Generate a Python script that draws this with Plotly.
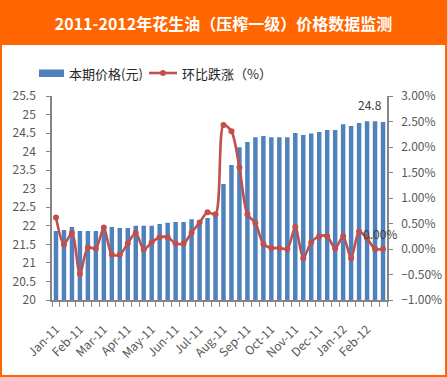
import plotly.graph_objects as go

months = ["Jan-11", "Feb-11", "Mar-11", "Apr-11", "May-11", "Jun-11", "Jul-11",
          "Aug-11", "Sep-11", "Oct-11", "Nov-11", "Dec-11", "Jan-12", "Feb-12"]
periods = ["上旬", "中旬", "下旬"]
categories = [f"{m} {p}" for m in months for p in periods]

price = [21.86, 21.89, 21.97, 21.86, 21.86, 21.86, 21.97, 21.97, 21.94, 21.94,
         22.00, 22.00, 22.00, 22.05, 22.08, 22.10, 22.10, 22.18, 22.03, 22.21,
         22.32, 23.13, 23.64, 24.12, 24.26, 24.39, 24.42, 24.39, 24.39, 24.39,
         24.50, 24.45, 24.49, 24.53, 24.58, 24.58, 24.74, 24.69, 24.77, 24.82,
         24.82, 24.80]
pct = [0.62, 0.09, 0.32, -0.49, 0.03, 0.01, 0.42, -0.11, -0.11, 0.11,
       0.32, -0.01, 0.13, 0.23, 0.23, 0.11, 0.11, 0.32, 0.52, 0.72,
       0.68, 2.43, 2.31, 1.60, 0.68, 0.51, 0.10, 0.02, 0.02, 0.00,
       0.43, -0.18, 0.13, 0.25, 0.25, 0.01, 0.25, -0.18, 0.34, 0.21,
       0.00, 0.00]

title = "2011-2012年花生油（压榨一级）价格数据监测"
name_bar = "本期价格(元)"
name_line = "环比跌涨（%）"

BLUE = "#4F81BD"
RED = "#C0504D"
ORANGE = "#FF6600"
AXIS = "#868686"
TICK = "#595959"
FONT = "Noto Sans CJK SC, Noto Sans, sans-serif"

xs = list(range(len(categories)))

fig = go.Figure()
fig.add_trace(go.Bar(x=xs, y=price, name=name_bar, marker_color=BLUE,
                     marker_line_width=0, yaxis="y", hovertext=categories))
fig.add_trace(go.Scatter(x=xs, y=pct, name=name_line, yaxis="y2",
                         mode="lines+markers", line=dict(color=RED, width=2.6, shape="spline", smoothing=0.8),
                         marker=dict(color=RED, size=6), hovertext=categories))

L, R, T, B = 52, 60, 96, 77
W, H = 447, 377
pw, ph = W - L - R, H - T - B

def px(x):
    return (x - L) / pw

def py(y):
    return (H - B - y) / ph

shapes = [
    dict(type="rect", xref="paper", yref="paper", x0=px(2), x1=px(445), y0=py(375), y1=py(45),
         fillcolor="white", line_width=0, layer="below"),
    dict(type="rect", xref="paper", yref="paper", x0=px(39), x1=px(64), y0=py(77), y1=py(69.5),
         fillcolor=BLUE, line_width=0),
    dict(type="line", xref="paper", yref="paper", x0=px(149), x1=px(177), y0=py(73), y1=py(73),
         line=dict(color=RED, width=2.6)),
    dict(type="circle", xref="paper", yref="paper", x0=px(160), x1=px(166), y0=py(76), y1=py(70),
         fillcolor=RED, line_width=0),
]

annotations = [
    dict(text=name_bar, xref="paper", yref="paper", x=px(67), y=py(73), xanchor="left", yanchor="middle",
         showarrow=False, font=dict(size=13, color="#262626", family=FONT)),
    dict(text=name_line, xref="paper", yref="paper", x=px(180), y=py(73), xanchor="left", yanchor="middle",
         showarrow=False, font=dict(size=13, color="#262626", family=FONT)),
    dict(text=f"{price[-1]:.1f}", x=xs[-1], y=price[-1], xref="x", yref="y", showarrow=False,
         yanchor="bottom", yshift=7, xshift=-13, font=dict(size=12, color="#404040", family=FONT)),
    dict(text=f"{pct[-1]:.2f}%", x=xs[-1], y=pct[-1], xref="x", yref="y2", showarrow=False,
         yanchor="bottom", yshift=5, xshift=-3, font=dict(size=12, color="#404040", family=FONT)),
]

fig.update_layout(
    width=W, height=H,
    margin=dict(l=L, r=R, t=T, b=B, pad=0, autoexpand=False),
    paper_bgcolor=ORANGE, plot_bgcolor="white",
    showlegend=False,
    bargap=0.44,
    font=dict(family=FONT, color=TICK, size=12),
    title=dict(text=title, x=0.5, xref="container", y=1 - 24 / H, yref="container",
               xanchor="center", yanchor="middle", automargin=False,
               font=dict(size=16, color="white", family=FONT, weight="bold")),
    xaxis=dict(range=[-0.5, len(xs) - 0.5], tickvals=xs[::3], ticktext=months, tickangle=-45,
               ticks="", showgrid=False, zeroline=False, showline=True, linecolor=AXIS, linewidth=1.5,
               tickfont=dict(size=12, color=TICK), automargin=False, ticklabelstandoff=16,
               minor=dict(tick0=-0.5, dtick=1, ticks="outside", ticklen=5, tickcolor=AXIS, tickwidth=1.3,
                          showgrid=False)),
    yaxis=dict(range=[20, 25.5], dtick=0.5, tick0=20, showgrid=False, zeroline=False, automargin=False,
               showline=True, linecolor=AXIS, linewidth=1.5, ticks="outside", ticklen=4,
               tickcolor=AXIS, tickwidth=1.3, ticklabelstandoff=8, tickfont=dict(size=12, color=TICK)),
    yaxis2=dict(range=[-1, 3], dtick=0.5, tick0=-1, overlaying="y", side="right", showgrid=False,
                zeroline=False, showline=True, linecolor=AXIS, linewidth=1.5, ticks="outside", ticklen=4,
                tickcolor=AXIS, tickwidth=1.3, tickformat=".2f", ticksuffix="%", ticklabelstandoff=6,
                automargin=False, tickfont=dict(size=12, color=TICK)),
    shapes=shapes,
    annotations=annotations,
)

fig.write_html("out.html", config={"displayModeBar": False},
               post_script="document.body.style.margin='0';document.body.style.overflow='hidden';")
